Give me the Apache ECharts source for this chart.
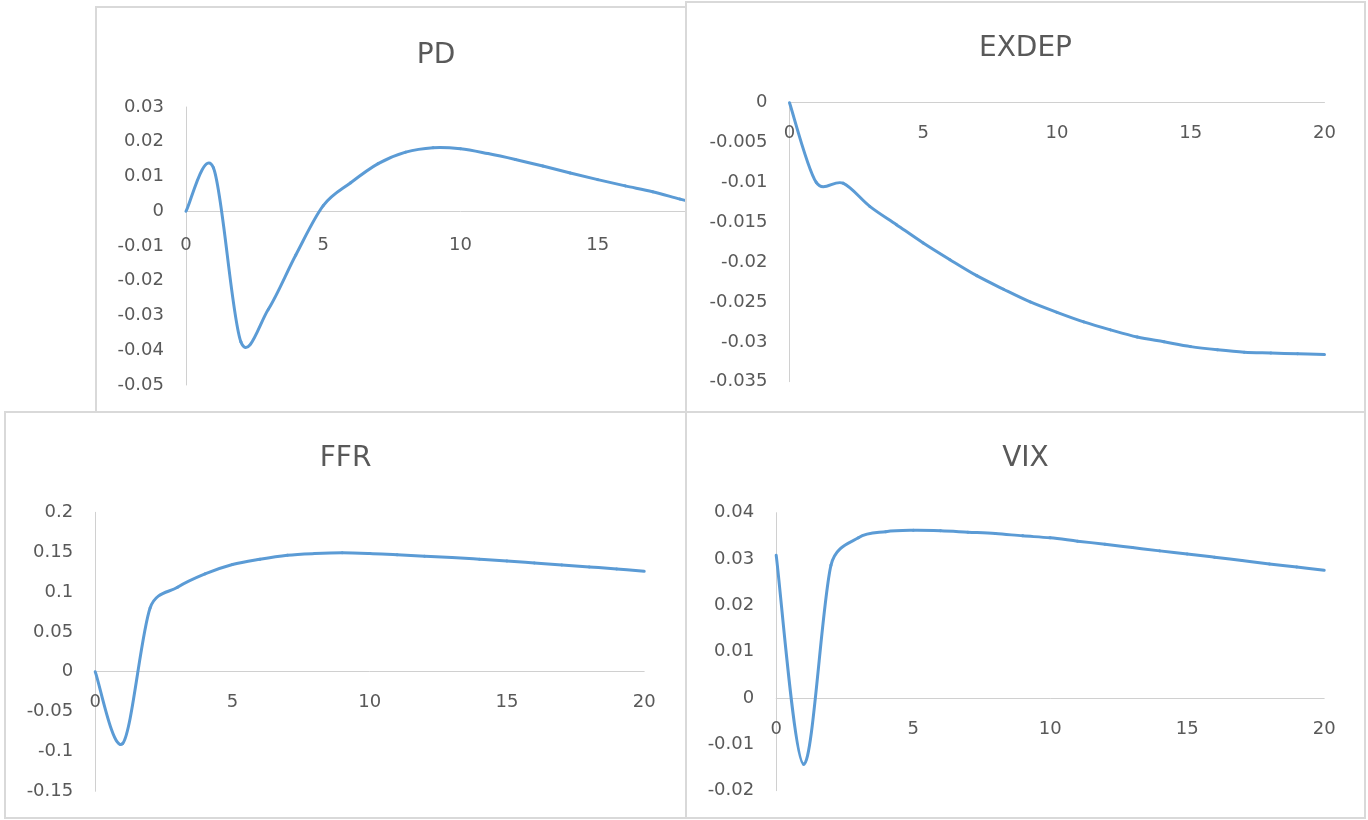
<!DOCTYPE html>
<html>
<head>
<meta charset="utf-8">
<script src="https://cdn.jsdelivr.net/npm/echarts@6/dist/echarts.min.js"></script>
<style>
  html, body { margin: 0; padding: 0; background: #ffffff; }
  body { width: 1368px; height: 820px; position: relative; overflow: hidden; }
  .box { position: absolute; box-sizing: border-box; border: 2px solid #d9d9d9; background: #ffffff; }
  .box > div { width: 100%; height: 100%; }
</style>
</head>
<body>
<div class="box" style="left:95px; top:6px; width:682px; height:407px; z-index:1;"><div id="cPD"></div></div>
<div class="box" style="left:685px; top:1px; width:681px; height:412px; z-index:2;"><div id="cEX"></div></div>
<div class="box" style="left:4px; top:411px; width:683px; height:408px; z-index:3;"><div id="cFFR"></div></div>
<div class="box" style="left:685px; top:411px; width:681px; height:408px; z-index:4;"><div id="cVIX"></div></div>
<script>
// ---- data ----
const periods = [0,1,2,3,4,5,6,7,8,9,10,11,12,13,14,15,16,17,18,19,20];
const pdValues = [0, 0.0125, -0.0376, -0.0282, -0.0126, 0.0016, 0.0082, 0.0137, 0.0170, 0.0183, 0.0180, 0.0166, 0.0149, 0.0130, 0.0110, 0.0091, 0.0073, 0.0056, 0.0035, 0.0015, -0.0003];
const exdepValues = [0, -0.0100, -0.0101, -0.0130, -0.0153, -0.0176, -0.0197, -0.0217, -0.0234, -0.0250, -0.0263, -0.0275, -0.0285, -0.0294, -0.0300, -0.0306, -0.0310, -0.0313, -0.0314, -0.0315, -0.0316];
const ffrValues = [0, -0.090, 0.080, 0.106, 0.1227, 0.1345, 0.1412, 0.1462, 0.1483, 0.1492, 0.1483, 0.1466, 0.1450, 0.1433, 0.1412, 0.1390, 0.1365, 0.1340, 0.1315, 0.1290, 0.1260];
const vixValues = [0.0308, -0.0143, 0.0287, 0.0346, 0.0359, 0.0362, 0.0361, 0.0358, 0.0355, 0.0350, 0.03457, 0.03386, 0.0332, 0.03248, 0.03176, 0.0311, 0.03039, 0.02966, 0.02894, 0.02829, 0.02756];

const titles = ['PD', 'EXDEP', 'FFR', 'VIX'];
const xTicks = { min: 0, max: 20, interval: 5 };
const yScales = {
  PD:    { min: -0.05,  max: 0.03, interval: 0.01 },
  EXDEP: { min: -0.035, max: 0,    interval: 0.005 },
  FFR:   { min: -0.15,  max: 0.2,  interval: 0.05 },
  VIX:   { min: -0.02,  max: 0.04, interval: 0.01 }
};

const FONT = 'DejaVu Sans';
const TXT = '#595959';
const AXIS = '#d0d0d0';
const LINE = '#5B9BD5';

function fmt(v) {
  const r = parseFloat(Number(v).toFixed(6));
  return r === 0 ? '0' : String(r);
}

// Excel-like smoothed line: cubic Bezier segments with Catmull-Rom tangents
// (arm = chord/6, capped at half the segment length), positioned through the
// chart's own coordinate system.
function smoothRenderer(values) {
  return function (params, api) {
    const i = params.dataIndex;
    const n = periods.length;
    if (i >= n - 1) return { type: 'group', children: [] };
    const cl = k => Math.max(0, Math.min(n - 1, k));
    const pt = k => api.coord([periods[cl(k)], values[cl(k)]]);
    const p0 = pt(i - 1), p1 = pt(i), p2 = pt(i + 1), p3 = pt(i + 2);
    const seg = Math.hypot(p2[0] - p1[0], p2[1] - p1[1]);
    function arm(a, b) {
      let dx = (b[0] - a[0]) / 6, dy = (b[1] - a[1]) / 6;
      const len = Math.hypot(dx, dy);
      if (len > seg / 2 && len > 0) { const f = (seg / 2) / len; dx *= f; dy *= f; }
      return [dx, dy];
    }
    const a1 = arm(p0, p2), a2 = arm(p1, p3);
    return {
      type: 'bezierCurve',
      shape: {
        x1: p1[0], y1: p1[1], x2: p2[0], y2: p2[1],
        cpx1: p1[0] + a1[0], cpy1: p1[1] + a1[1],
        cpx2: p2[0] - a2[0], cpy2: p2[1] - a2[1]
      },
      style: { stroke: LINE, lineWidth: 3, fill: null, lineCap: 'round', lineJoin: 'round' }
    };
  };
}

function makeChart(el, title, values, ys, g) {
  const chart = echarts.init(document.getElementById(el), null, { renderer: 'canvas' });
  const zeroOffset = -g.height * (0 - ys.min) / (ys.max - ys.min);
  chart.setOption({
    animation: false,
    backgroundColor: '#ffffff',
    title: {
      text: title, left: 'center', top: g.titleTop, padding: 0,
      textStyle: { fontFamily: FONT, fontSize: 28, fontWeight: 'normal', color: TXT }
    },
    grid: { left: g.left, top: g.top, width: g.width, height: g.height,
            containLabel: false, outerBoundsMode: 'none' },
    xAxis: {
      type: 'value', min: xTicks.min, max: xTicks.max, interval: xTicks.interval,
      position: 'bottom', offset: zeroOffset,
      axisLine: { show: true, onZero: false, lineStyle: { color: AXIS, width: 1 } },
      axisTick: { show: false },
      splitLine: { show: false },
      axisLabel: { margin: g.xMargin, fontFamily: FONT, fontSize: 18, color: TXT, formatter: fmt,
                   showMinLabel: true, showMaxLabel: true }
    },
    yAxis: {
      type: 'value', min: ys.min, max: ys.max, interval: ys.interval,
      axisLine: { show: true, onZero: false, lineStyle: { color: AXIS, width: 1 } },
      axisTick: { show: false },
      splitLine: { show: false },
      axisLabel: { margin: 22, fontFamily: FONT, fontSize: 18, color: TXT, formatter: fmt,
                   showMinLabel: true, showMaxLabel: true }
    },
    series: [{
      type: 'custom',
      name: title,
      data: periods.map((p, i) => [p, values[i]]),
      encode: { x: 0, y: 1 },
      clip: false,
      renderItem: smoothRenderer(values)
    }]
  });
  return chart;
}

makeChart('cPD', titles[0], pdValues, yScales.PD,
  { left: 89, top: 99, width: 549, height: 278, titleTop: 34, xMargin: 25 });
makeChart('cEX', titles[1], exdepValues, yScales.EXDEP,
  { left: 102.5, top: 99.7, width: 535, height: 279, titleTop: 32, xMargin: 22 });
makeChart('cFFR', titles[2], ffrValues, yScales.FFR,
  { left: 89.2, top: 99.3, width: 549, height: 279, titleTop: 32, xMargin: 22 });
makeChart('cVIX', titles[3], vixValues, yScales.VIX,
  { left: 89.2, top: 99.7, width: 548, height: 278, titleTop: 32, xMargin: 22 });
</script>
</body>
</html>
